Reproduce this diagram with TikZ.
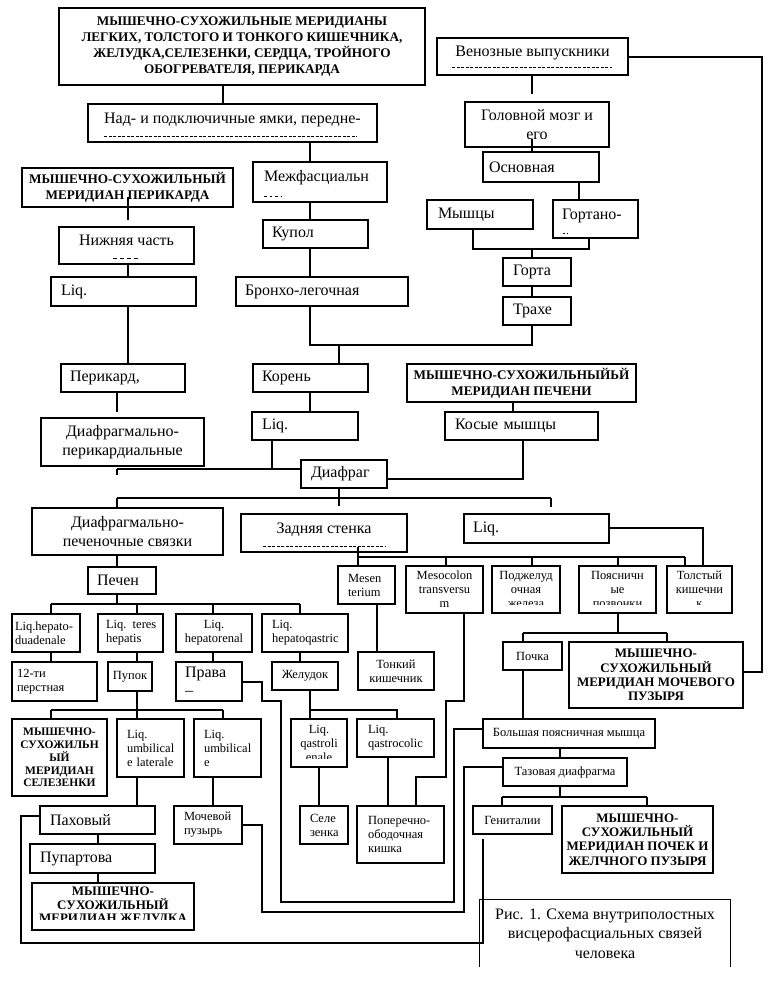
\documentclass[tikz,border=0pt]{standalone}
\usepackage{fontspec}
\setmainfont{Liberation Serif}
\usetikzlibrary{calc}
\newcommand\fN{\fontsize{16}{18.5}\selectfont}
\newcommand\fS{\fontsize{12.5}{14}\selectfont}
\newcommand\fB{\fontsize{13.2}{16.3}\selectfont\bfseries}
\newcommand\fBt{\fontsize{13}{14.4}\selectfont\bfseries}
\newcommand\fBz{\fontsize{13}{13.5}\selectfont\bfseries}
\newcommand\fBs{\fontsize{11.5}{12.8}\selectfont\bfseries}
\newcommand\fC{\fontsize{16}{19.5}\selectfont}
\tikzset{
  bxs/.style={draw, line width=1.2pt, outer sep=0pt, inner xsep=2pt, inner ysep=0pt, font=\fN, align=center},
  lft/.code={\pgfmathsetmacro\bxtw{\bxw-2*#1}\edef\bxtmp{\noexpand\tikzset{align=left,inner xsep=#1pt,text width=\bxtw pt}}\bxtmp},
  lft/.default=9,
  sm/.style={font=\fS},
  bd/.style={font=\fB},
  hiTxt/.style={text depth=#1},
  hiTxt/.default=9.5pt,
  ln/.style={line width=1.2pt},
  crow/.style={line width=0.8pt, dash pattern=on 3pt off 1.5pt},
}
\newcommand\bx[7][]{%
  \pgfmathsetmacro\bxw{#5-#3}%
  \pgfmathsetmacro\bxh{#6-#4}%
  \pgfmathsetmacro\bxx{(#3+#5)/2}%
  \pgfmathsetmacro\bxy{(#4+#6)/2}%
  \node[bxs,minimum width=\bxw pt,minimum height=\bxh pt,#1] (#2) at (\bxx,\bxy) {#7};}
\newcommand\bxc[8][]{%
  \begin{scope}
  \clip (#3-4,#4-4) rectangle (#5+4,#6-#7);
  \bx[#1]{#2}{#3}{#4}{#5}{#6}{#8}
  \end{scope}
  \draw[ln] (#2.south west) rectangle (#2.north east);}
\newcommand\vl[3]{\draw[ln] (#2.south -| #1,0) -- (#3.north -| #1,0);}
\begin{document}
\begin{tikzpicture}[x=1pt,y=-1pt]
\fill[white] (0,0) rectangle (775,995);
\useasboundingbox (0,0) rectangle (775,995);

% boxes
\bx[bd]{top}{59}{8}{425}{85}{МЫШЕЧНО-СУХОЖИЛЬНЫЕ МЕРИДИАНЫ\\ЛЕГКИХ, ТОЛСТОГО И ТОНКОГО КИШЕЧНИКА,\\ЖЕЛУДКА,СЕЛЕЗЕНКИ, СЕРДЦА, ТРОЙНОГО\\ОБОГРЕВАТЕЛЯ, ПЕРИКАРДА}
\bx[hiTxt]{venoz}{437}{38}{628}{75}{Венозные выпускники}
\bx[hiTxt]{nad}{88}{104}{377}{142}{Над- и подключичные ямки, передне-}
\bx{golov}{465}{102}{609}{147}{Головной мозг и\\его}
\bx[bd]{ptitle}{22}{168}{233}{207}{МЫШЕЧНО-СУХОЖИЛЬНЫЙ\\МЕРИДИАН ПЕРИКАРДА}
\bx[lft=11,hiTxt=11.5pt]{mezh}{253}{162}{387}{202}{Межфасциальн}
\bx[lft=6]{osn}{483}{152}{599}{182}{Основная}
\bx[lft=11]{myshc}{427}{200}{533}{229}{Мышцы}
\bx[lft=9,hiTxt=9pt]{gortano}{553}{200}{638}{238}{Гортано-}
\bx[hiTxt]{nizh}{59}{227}{194}{264}{Нижняя часть}
\bx[lft=9]{kupol}{263}{220}{368}{248}{Купол}
\bx[lft=10]{gorta}{503}{258}{571}{286}{Горта}
\bx[lft=10]{liq1}{51}{277}{196}{306}{Liq.}
\bx[lft=9]{bronh}{236}{277}{408}{306}{Бронхо-легочная}
\bx[lft=10]{trahe}{503}{297}{571}{325}{Трахе}
\bx[lft=9]{perikard}{61}{364}{185}{392}{Перикард,}
\bx[lft=9]{koren}{253}{364}{368}{392}{Корень}
\bx[bd]{pechtitle}{407}{364}{636}{402}{МЫШЕЧНО-СУХОЖИЛЬНЫЙЬЙ\\МЕРИДИАН ПЕЧЕНИ}
\bx{dpk}{41}{418}{204}{466}{Диафрагмально-\\перикардиальные}
\bx[lft=10]{liq2}{252}{412}{358}{440}{Liq.}
\bx[lft=10]{kosye}{445}{412}{598}{440}{Косые мышцы}
\bx[lft=10]{diafrag}{301}{460}{387}{488}{Диафраг}
\bx{dps}{32}{508}{223}{555}{Диафрагмально-\\печеночные связки}
\bx[hiTxt]{zadn}{241}{514}{407}{552}{Задняя стенка}
\bx[lft=9]{liq3}{464}{514}{609}{543}{Liq.}
\bx[lft=9]{pechen}{88}{567}{156}{594}{Печен}
\bx[sm,lft=10]{mesen}{338}{566}{395}{604}{Mesen\\terium}
\bx[sm]{mesoc}{406}{566}{483}{613}{Mesocolon\\transversu\\m}
\bxc[sm]{podzh}{492}{566}{560}{613}{9}{Поджелуд\\очная\\железа}
\bxc[sm]{poyas}{579}{566}{656}{613}{9}{Поясничн\\ые\\позвонки}
\bxc[sm]{tolst}{667}{566}{732}{613}{9}{Толстый\\кишечни\\к}
\bx[sm,lft=3]{hd}{12}{614}{80}{652}{Liq.hepato-\\duadenale}
\bx[sm,lft=8]{teres}{98}{614}{163}{652}{\mbox{Liq. teres}\\hepatis}
\bx[sm]{hr}{176}{614}{252}{652}{Liq.\\hepatorenal}
\bx[sm,lft=10]{hq}{262}{614}{348}{652}{Liq.\\hepatoqastric}
\bx[sm]{tonk}{358}{652}{434}{690}{Тонкий\\кишечник}
\bx[sm,lft=5]{d12}{12}{662}{97}{701}{12-ти\\перстная}
\bx[sm]{pupok}{108}{662}{152}{691}{Пупок}
\bx[lft=9]{prava}{176}{662}{242}{701}{Права\\–}
\bx[sm]{zhel}{272}{662}{338}{690}{Желудок}
\bx[sm]{pochka}{503}{642}{562}{670}{Почка}
\bx[font=\fBt]{moch}{569}{642}{743}{708}{МЫШЕЧНО-\\СУХОЖИЛЬНЫЙ\\МЕРИДИАН МОЧЕВОГО\\ПУЗЫРЯ}
\bx[font=\fBs]{sel}{12}{719}{107}{796}{МЫШЕЧНО-\\СУХОЖИЛЬН\\ЫЙ\\МЕРИДИАН\\СЕЛЕЗЕНКИ}
\bx[sm,lft=10]{uml}{117}{719}{184}{777}{Liq.\\umbilical\\e laterale}
\bx[sm,lft=10]{ume}{194}{719}{261}{777}{Liq.\\umbilical\\e}
\bxc[sm]{ql}{291}{719}{347}{767}{9}{Liq.\\qastroli\\enale}
\bx[sm,lft=11]{qc}{357}{719}{434}{757}{Liq.\\qastrocolic}
\bx[sm]{bolsh}{483}{719}{655}{748}{Большая поясничная мышца}
\bx[sm]{taz}{503}{758}{627}{786}{Тазовая диафрагма}
\bx[lft=10]{pah}{40}{806}{155}{834}{Паховый}
\bx[sm,lft=10]{moch2}{174}{806}{242}{844}{Мочевой\\пузырь}
\bx[sm,lft=10]{sele}{300}{806}{348}{844}{Селе\\зенка}
\bx[sm,lft=11]{poper}{357}{806}{444}{863}{Поперечно-\\ободочная\\кишка}
\bx[sm]{genit}{473}{806}{552}{834}{Гениталии}
\bx[font=\fBt]{pochki}{562}{806}{713}{873}{МЫШЕЧНО-\\СУХОЖИЛЬНЫЙ\\МЕРИДИАН ПОЧЕК И\\ЖЕЛЧНОГО ПУЗЫРЯ}
\bx[lft=10]{pupart}{30}{844}{155}{873}{Пупартова}
\bxc[font=\fBz]{zheltitle}{32}{883}{194}{930}{11}{МЫШЕЧНО-\\СУХОЖИЛЬНЫЙ\\МЕРИДИАН ЖЕЛУДКА}
\node[font=\fC, align=center, minimum width=250pt, minimum height=67pt, inner sep=0pt] (cap) at (605,933.5) {Рис. 1. Схема внутриполостных\\висцерофасциальных связей\\человека};
\draw[ln] (cap.south west) -- (cap.north west) -- (cap.north east) -- (cap.south east);

% clipped text rows
\draw[crow] (452,67) -- (612,67);
\draw[crow] (104,136) -- (357,136);
\draw[crow,dash pattern=on 2.5pt off 3pt] (264,196) -- (281,196);
\draw[crow,dash pattern=on 4pt off 3pt] (113,258) -- (141,258);
\draw[crow] (263,546) -- (385,546);
\draw[crow,dash pattern=on 1.5pt off 2pt] (563,233) -- (569,233);

% connectors
\vl{223}{top}{nad}
\vl{310}{nad}{mezh}
\vl{310}{mezh}{kupol}
\vl{310}{kupol}{bronh}
\draw[ln] (bronh.south -| 310,0) -- (310,345) -- (532,345) -- (trahe.south -| 532,0);
\draw[ln] (339,345) -- (koren.north -| 339,0);
\vl{310}{koren}{liq2}
\draw[ln] (liq2.south -| 272,0) -- (272,469);
\draw[ln] (117,469) -- (diafrag.west |- 0,469);
\draw[ln] (117,469) -- (117,475);
\draw[ln] (diafrag.east |- 0,479) -- (523,479) -- (kosye.south -| 523,0);
\vl{513}{pechtitle}{kosye}
\draw[ln] (venoz.east |- 0,57) -- (762,57) -- (762,672) -- (moch.east |- 0,672);
\coordinate (vz) at (532,94);
\draw[ln] (venoz.south -| 532,0) -- (vz);
\draw[ln] (532,139) -- (osn.north -| 532,0);
\vl{579}{osn}{gortano}
\draw[ln] (myshc.south -| 473,0) -- (473,249) -- (589,249) -- (gortano.south -| 589,0);
\draw[ln] (532,249) -- (gorta.north -| 532,0);
\vl{532}{gorta}{trahe}
\coordinate (pz) at (128,220);
\draw[ln] (128,197) -- (pz);
\vl{128}{nizh}{liq1}
\vl{128}{liq1}{perikard}
\coordinate (pk) at (117,412);
\draw[ln] (perikard.south -| 117,0) -- (pk);
\draw[ln] (diafrag.south -| 339,0) -- (339,506);
\draw[ln] (117,498) -- (551,498);
\draw[ln] (117,498) -- (dps.north -| 117,0);
\draw[ln] (551,498) -- (551,507);
\draw[ln] (358,547) -- (mesen.north -| 358,0);
\draw[ln] (358,557) -- (685,557);
\draw[ln] (446,557) -- (mesoc.north -| 446,0);
\draw[ln] (532,557) -- (podzh.north -| 532,0);
\draw[ln] (618,557) -- (poyas.north -| 618,0);
\draw[ln] (685,557) -- (tolst.north -| 685,0);
\draw[ln] (liq3.east |- 0,528) -- (703,528) -- (tolst.north -| 703,0);
\vl{117}{dps}{pechen}
\draw[ln] (pechen.south -| 117,0) -- (117,604);
\draw[ln] (51,604) -- (300,604);
\draw[ln] (51,604) -- (hd.north -| 51,0);
\draw[ln] (137,604) -- (teres.north -| 137,0);
\draw[ln] (213,604) -- (hr.north -| 213,0);
\draw[ln] (300,604) -- (hq.north -| 300,0);
\vl{51}{hd}{d12}
\vl{137}{teres}{pupok}
\vl{213}{hr}{prava}
\vl{300}{hq}{zhel}
\draw[ln] (pupok.south -| 137,0) -- (137,710);
\draw[ln] (51,710) -- (223,710);
\draw[ln] (51,710) -- (sel.north -| 51,0);
\draw[ln] (137,710) -- (uml.north -| 137,0);
\draw[ln] (223,710) -- (ume.north -| 223,0);
\vl{137}{uml}{pah}
\vl{98}{pah}{pupart}
\vl{98}{pupart}{zheltitle}
\vl{213}{ume}{moch2}
\vl{377}{mesen}{tonk}
\draw[ln] (zhel.south -| 310,0) -- (310,710) -- (397,710) -- (qc.north -| 397,0);
\draw[ln] (310,710) -- (ql.north -| 310,0);
\vl{319}{ql}{sele}
\vl{388}{qc}{poper}
\draw[ln] (mesoc.south -| 464,0) -- (464,701) -- (446,701) -- (446,777) -- (416,777) -- (poper.north -| 416,0);
\draw[ln] (poyas.south -| 618,0) -- (618,633);
\draw[ln] (523,633) -- (667,633);
\draw[ln] (523,633) -- (pochka.north -| 523,0);
\draw[ln] (667,633) -- (moch.north -| 667,0);
\vl{523}{pochka}{bolsh}
\vl{560}{bolsh}{taz}
\draw[ln] (taz.south -| 560,0) -- (560,797);
\draw[ln] (502,797) -- (647,797);
\draw[ln] (502,797) -- (genit.north -| 502,0);
\draw[ln] (647,797) -- (pochki.north -| 647,0);
\draw[ln] (prava.east |- 0,682) -- (262,682) -- (262,701) -- (281,701) -- (281,902) -- (454,902) -- (454,729) -- (bolsh.west |- 0,729);
\draw[ln] (moch2.east |- 0,825) -- (262,825) -- (262,912) -- (464,912) -- (464,767) -- (taz.west |- 0,767);
\coordinate (gz) at (483,839);
\draw[ln] (pah.west |- 0,816) -- (21,816) -- (21,943) -- (483,943) -- (gz);
\end{tikzpicture}
\end{document}
